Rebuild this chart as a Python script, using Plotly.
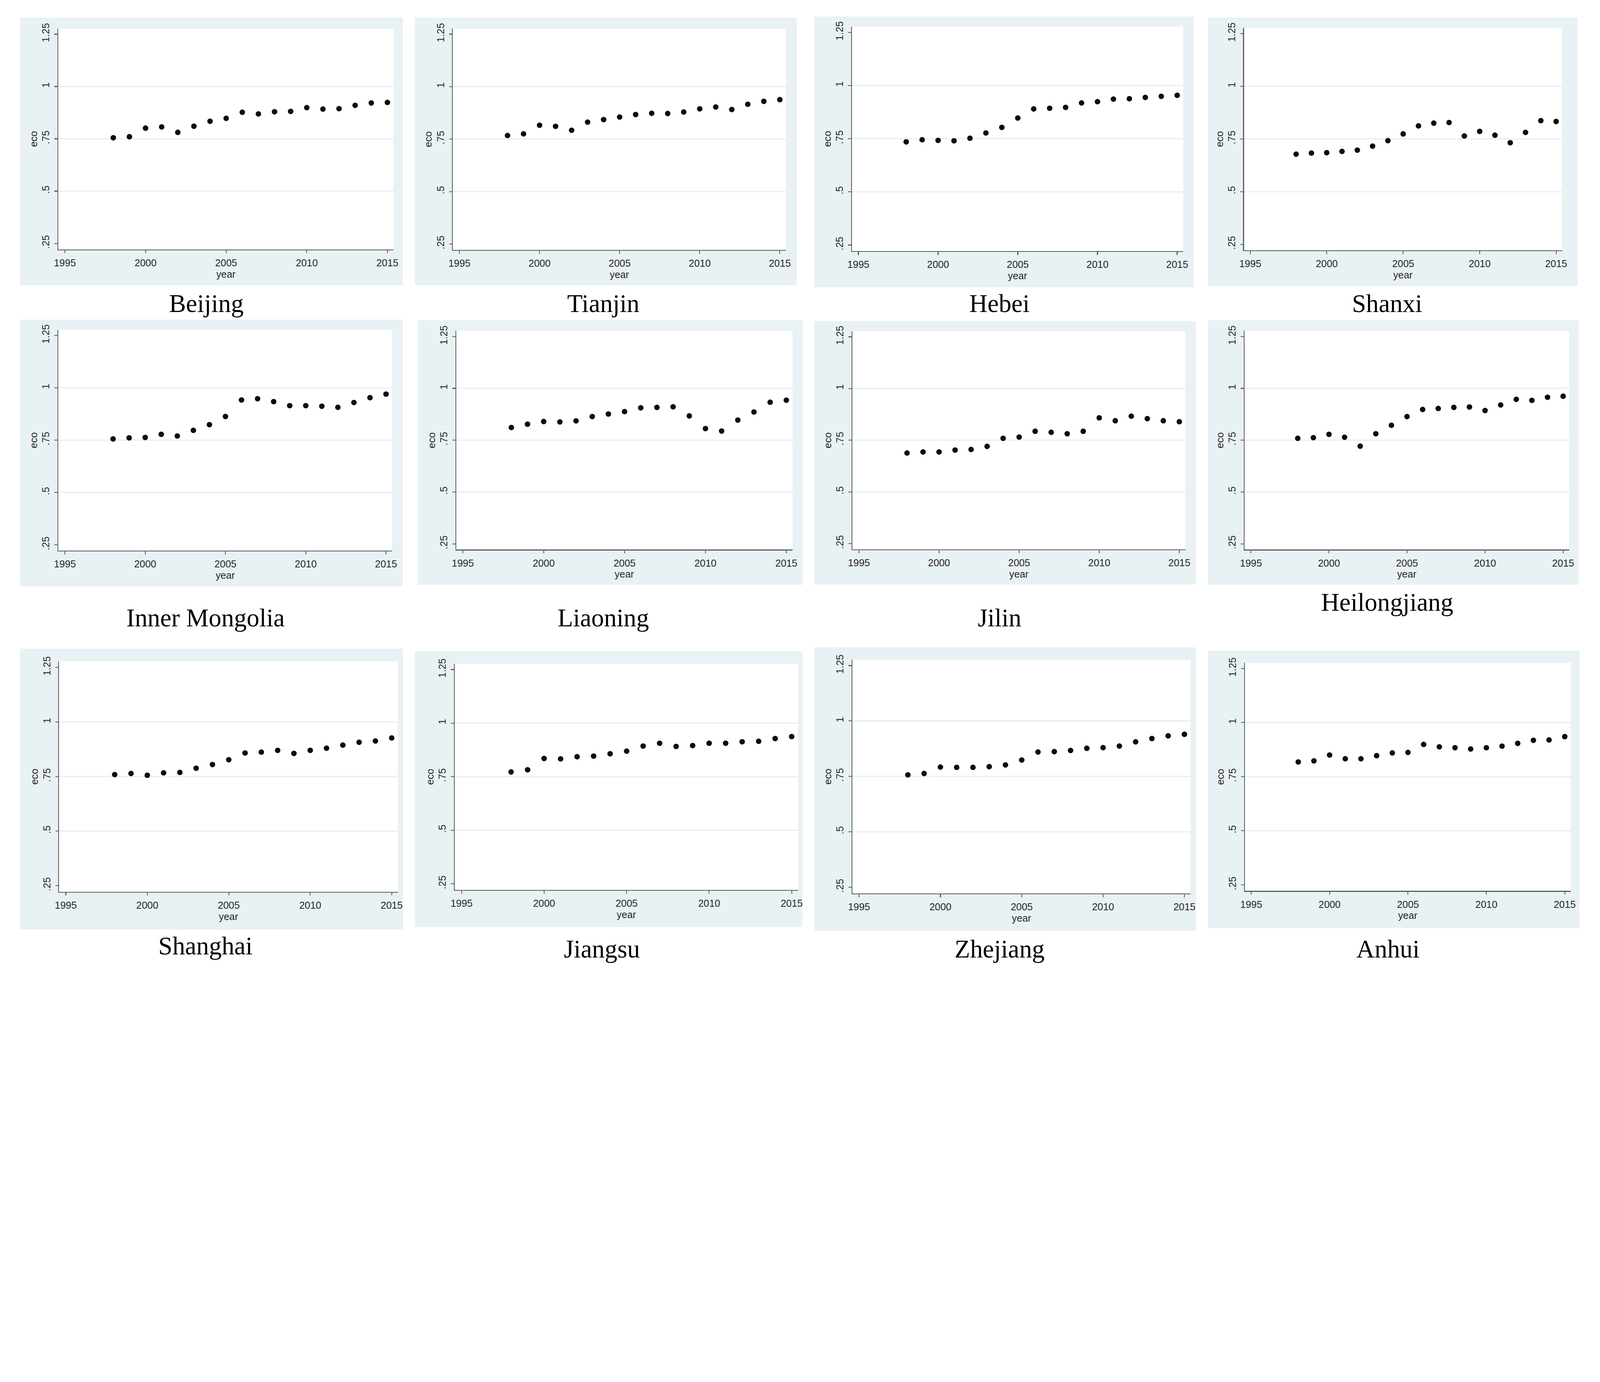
import plotly.graph_objects as go

# ---------------- data ----------------
YEARS = [1998, 1999, 2000, 2001, 2002, 2003, 2004, 2005, 2006,
         2007, 2008, 2009, 2010, 2011, 2012, 2013, 2014, 2015]

PROVINCES = ["Beijing", "Tianjin", "Hebei", "Shanxi",
             "Inner Mongolia", "Liaoning", "Jilin", "Heilongjiang",
             "Shanghai", "Jiangsu", "Zhejiang", "Anhui"]

BEIJING = [0.755, 0.760, 0.801, 0.807, 0.781, 0.810, 0.834, 0.848, 0.877,
           0.869, 0.879, 0.881, 0.899, 0.892, 0.894, 0.910, 0.921, 0.924]
TIANJIN = [0.767, 0.775, 0.816, 0.811, 0.792, 0.831, 0.843, 0.855, 0.867,
           0.873, 0.872, 0.879, 0.894, 0.903, 0.891, 0.916, 0.930, 0.938]
HEBEI = [0.735, 0.745, 0.742, 0.740, 0.752, 0.777, 0.803, 0.847, 0.890,
         0.893, 0.897, 0.918, 0.924, 0.936, 0.938, 0.944, 0.949, 0.954]
SHANXI = [0.678, 0.683, 0.685, 0.691, 0.697, 0.716, 0.742, 0.774, 0.812,
          0.825, 0.828, 0.764, 0.786, 0.768, 0.732, 0.781, 0.837, 0.833]
INNER_MONGOLIA = [0.756, 0.761, 0.763, 0.778, 0.770, 0.797, 0.824, 0.863, 0.942,
                  0.948, 0.934, 0.915, 0.915, 0.912, 0.907, 0.930, 0.953, 0.970]
LIAONING = [0.811, 0.827, 0.840, 0.838, 0.843, 0.864, 0.876, 0.888, 0.906,
            0.908, 0.911, 0.867, 0.806, 0.794, 0.847, 0.886, 0.933, 0.943]
JILIN = [0.688, 0.693, 0.693, 0.702, 0.705, 0.720, 0.759, 0.765, 0.793,
         0.788, 0.781, 0.793, 0.858, 0.844, 0.866, 0.854, 0.844, 0.839]
HEILONGJIANG = [0.759, 0.762, 0.778, 0.764, 0.721, 0.781, 0.822, 0.864, 0.898,
                0.903, 0.908, 0.910, 0.893, 0.920, 0.947, 0.942, 0.957, 0.962]
SHANGHAI = [0.759, 0.764, 0.756, 0.767, 0.769, 0.788, 0.805, 0.827, 0.858,
            0.862, 0.870, 0.856, 0.870, 0.880, 0.894, 0.907, 0.913, 0.927]
JIANGSU = [0.772, 0.782, 0.835, 0.833, 0.843, 0.846, 0.857, 0.869, 0.893,
           0.906, 0.891, 0.895, 0.906, 0.906, 0.913, 0.915, 0.928, 0.937]
ZHEJIANG = [0.757, 0.763, 0.792, 0.791, 0.791, 0.794, 0.802, 0.824, 0.860,
            0.862, 0.867, 0.877, 0.880, 0.887, 0.906, 0.921, 0.933, 0.940]
ANHUI = [0.818, 0.823, 0.850, 0.833, 0.833, 0.847, 0.860, 0.862, 0.899,
         0.888, 0.884, 0.878, 0.884, 0.891, 0.904, 0.918, 0.920, 0.935]

SERIES = [BEIJING, TIANJIN, HEBEI, SHANXI, INNER_MONGOLIA, LIAONING,
          JILIN, HEILONGJIANG, SHANGHAI, JIANGSU, ZHEJIANG, ANHUI]

X_TICKS = [1995, 2000, 2005, 2010, 2015]
X_TICK_LABELS = ["1995", "2000", "2005", "2010", "2015"]
Y_TICKS = [0.25, 0.5, 0.75, 1.0, 1.25]
Y_TICK_LABELS = [".25", ".5", ".75", "1", "1.25"]
GRID_VALUES = [0.5, 0.75, 1.0]
X_TITLE = "year"
Y_TITLE = "eco"

# ---------------- layout geometry (pixels of the 5811x3539 design) ----------------
W, H = 5811, 3539
# plot area: left, right, top, bottom
PLOT_BOX = [
    (196, 1421, 84, 891), (1638, 2855, 84, 893), (3096, 4307, 77, 897), (4529, 5691, 82, 894),
    (196, 1416, 1185, 1992), (1650, 2879, 1189, 1988), (3098, 4315, 1190, 1987), (4531, 5717, 1189, 1988),
    (199, 1437, 2397, 3238), (1645, 2899, 2405, 3231), (3098, 4334, 2390, 3244), (4532, 5723, 2401, 3235),
]
# light graph-region background: left, right, top, bottom
BG_BOX = [
    (57, 1455, 44, 1023), (1499, 2895, 44, 1023), (2959, 4345, 40, 1029), (4398, 5748, 44, 1025),
    (57, 1455, 1148, 2122), (1509, 2915, 1150, 2117), (2959, 4353, 1153, 2115), (4398, 5751, 1150, 2117),
    (57, 1456, 2350, 3376), (1499, 2915, 2360, 3367), (2959, 4354, 2345, 3381), (4398, 5755, 2357, 3371),
]
# caption centre: x, y
LABEL_POS = [
    (737, 1088), (2188, 1088), (3636, 1088), (5052, 1088),
    (734, 2238), (2188, 2238), (3636, 2238), (5052, 2180),
    (734, 3435), (2183, 3447), (3636, 3447), (5055, 3447),
]

X_RANGE = [1994.59, 2015.38]
Y_RANGE = [0.222, 1.277]

BG_COLOR = "#e8f1f3"
GRID_COLOR = "#e8f1f3"
AXIS_COLOR = "#5c5c5c"
TEXT_COLOR = "#262626"
MARKER_COLOR = "#0a0a0a"
TICK_FONT = dict(family="Liberation Sans, Arial, sans-serif", size=36, color=TEXT_COLOR)
LABEL_FONT = dict(family="Palatino Linotype, Book Antiqua, Liberation Serif, serif", size=92, color="#000000")


def px_x(v):
    return v / W


def px_y(v):
    return 1 - v / H


fig = go.Figure()
shapes = []
annotations = []
layout_axes = {}

for i, (name, vals) in enumerate(zip(PROVINCES, SERIES)):
    n = i + 1
    xa = "x" if n == 1 else f"x{n}"
    ya = "y" if n == 1 else f"y{n}"
    l, r, t, b = PLOT_BOX[i]
    bl, br, bt, bb = BG_BOX[i]

    # graph-region background, then the white plot region
    shapes.append(dict(type="rect", xref="paper", yref="paper",
                       x0=px_x(bl), x1=px_x(br), y0=px_y(bb), y1=px_y(bt),
                       fillcolor=BG_COLOR, line=dict(width=0), layer="below"))
    shapes.append(dict(type="rect", xref="paper", yref="paper",
                       x0=px_x(l), x1=px_x(r), y0=px_y(b), y1=px_y(t),
                       fillcolor="#ffffff", line=dict(width=0), layer="below"))
    # horizontal gridlines (Stata omits those at the axis extremes)
    for g in GRID_VALUES:
        shapes.append(dict(type="line", xref=f"{xa} domain", yref=ya,
                           x0=0, x1=1, y0=g, y1=g,
                           line=dict(color=GRID_COLOR, width=5), layer="below"))

    fig.add_trace(go.Scatter(
        x=YEARS, y=vals, mode="markers", xaxis=xa, yaxis=ya,
        marker=dict(color=MARKER_COLOR, size=20, line=dict(width=0)),
        showlegend=False, name=name))

    layout_axes["xaxis" if n == 1 else f"xaxis{n}"] = dict(
        domain=[px_x(l), px_x(r)], anchor=ya, range=X_RANGE,
        tickmode="array", tickvals=X_TICKS, ticktext=X_TICK_LABELS,
        showline=True, linecolor=AXIS_COLOR, linewidth=3,
        ticks="outside", ticklen=11, tickwidth=3, tickcolor=AXIS_COLOR,
        showgrid=False, zeroline=False, tickfont=TICK_FONT,
        ticklabelstandoff=4,
        title=dict(text=X_TITLE, font=TICK_FONT, standoff=0),
        fixedrange=True)
    layout_axes["yaxis" if n == 1 else f"yaxis{n}"] = dict(
        domain=[px_y(b), px_y(t)], anchor=xa, range=Y_RANGE,
        tickmode="array", tickvals=Y_TICKS, ticktext=Y_TICK_LABELS,
        tickangle=-90,
        showline=True, linecolor=AXIS_COLOR, linewidth=3,
        ticks="outside", ticklen=11, tickwidth=3, tickcolor=AXIS_COLOR,
        showgrid=False, zeroline=False, tickfont=TICK_FONT,
        ticklabelstandoff=4,
        title=dict(text=Y_TITLE, font=TICK_FONT, standoff=0),
        fixedrange=True)

    cx, cy = LABEL_POS[i]
    annotations.append(dict(text=name, xref="paper", yref="paper",
                            x=px_x(cx), y=px_y(cy), xanchor="center", yanchor="middle",
                            showarrow=False, font=LABEL_FONT))

fig.update_layout(
    width=W, height=H,
    margin=dict(l=0, r=0, t=0, b=0),
    paper_bgcolor="#ffffff", plot_bgcolor="rgba(0,0,0,0)",
    shapes=shapes, annotations=annotations,
    showlegend=False,
    **layout_axes,
)

# The browser caps the window width, so scale the fixed-size figure uniformly
# to fit the CSS viewport it actually gets (no-op when the window is full size).
FIT_SCRIPT = """
var gd = document.getElementById('{plot_id}');
var s = Math.min(1, window.innerWidth / %d, window.innerHeight / %d);
document.documentElement.style.margin = '0';
document.documentElement.style.overflow = 'hidden';
document.body.style.margin = '0';
document.body.style.overflow = 'hidden';
var wrap = gd.parentElement;
wrap.style.width = (%d * s) + 'px';
wrap.style.height = (%d * s) + 'px';
wrap.style.overflow = 'hidden';
gd.style.transformOrigin = '0 0';
gd.style.transform = 'scale(' + s + ')';
""" % (W, H, W, H)

fig.write_html("out.html", post_script=FIT_SCRIPT, config={"displayModeBar": False})
